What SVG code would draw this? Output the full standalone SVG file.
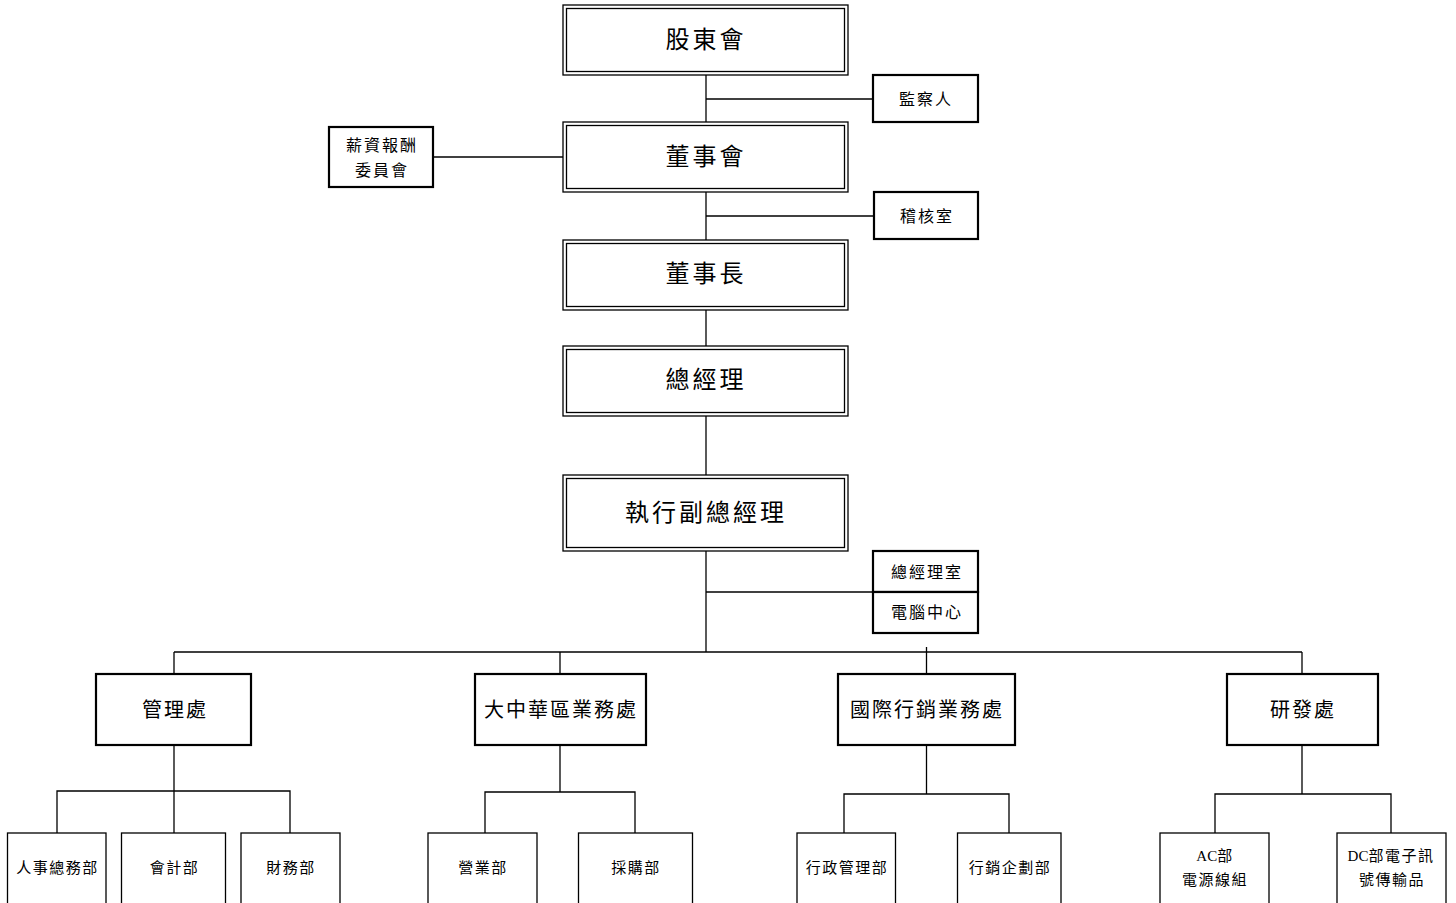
<svg xmlns="http://www.w3.org/2000/svg" width="1456" height="903" viewBox="0 0 1456 903">
<style>
text{font-family:"Liberation Serif","Noto Sans CJK TC",serif;fill:#000;text-anchor:middle;dominant-baseline:central}
.dbl{fill:none;stroke:#000;stroke-width:1.3}
.thk{fill:#fff;stroke:#000;stroke-width:2.2}
.thn{fill:#fff;stroke:#000;stroke-width:1.3}
.big{font-size:24px;letter-spacing:3px}
.mid{font-size:20px;letter-spacing:2px}
.sm{font-size:16px;letter-spacing:2px}
.xs{font-size:15px;letter-spacing:1.5px}
.lat{letter-spacing:0}
#connectors line,#connectors polyline{stroke:#000;stroke-width:1.3;fill:none}
</style>
<rect width="1456" height="903" fill="#fff"/>
<g id="connectors">
<line x1="706" y1="75" x2="706" y2="122"/>
<line x1="706" y1="99" x2="873" y2="99"/>
<line x1="706" y1="192" x2="706" y2="240"/>
<line x1="706" y1="216" x2="874" y2="216"/>
<line x1="433" y1="157" x2="563" y2="157"/>
<line x1="706" y1="310" x2="706" y2="346"/>
<line x1="706" y1="416" x2="706" y2="475"/>
<line x1="706" y1="551" x2="706" y2="652"/>
<line x1="706" y1="592" x2="873" y2="592"/>
<line x1="174" y1="652" x2="1302" y2="652"/>
<line x1="174" y1="652" x2="174" y2="674"/>
<line x1="560" y1="652" x2="560" y2="674"/>
<line x1="926.5" y1="647" x2="926.5" y2="674"/>
<line x1="1302" y1="652" x2="1302" y2="674"/>
<line x1="174" y1="745" x2="174" y2="833"/>
<polyline points="57,833 57,791 290,791 290,833"/>
<line x1="560" y1="745" x2="560" y2="792"/>
<polyline points="485,833 485,792 635,792 635,833"/>
<line x1="926.5" y1="745" x2="926.5" y2="794"/>
<polyline points="844,833 844,794 1009,794 1009,833"/>
<line x1="1302" y1="745" x2="1302" y2="794"/>
<polyline points="1215,833 1215,794 1391,794 1391,833"/>
</g>
<g id="n-gudong">
<rect x="563" y="5" width="285" height="70" class="dbl"/>
<rect x="566.5" y="8.5" width="278" height="63" class="dbl"/>
<text x="706" y="40" class="big">股東會</text>
</g>
<g id="n-jiancha">
<rect x="873" y="75" width="105" height="47" class="thk"/>
<text x="926" y="99" class="sm">監察人</text>
</g>
<g id="n-dongshihui">
<rect x="563" y="122" width="285" height="70" class="dbl"/>
<rect x="566.5" y="125.5" width="278" height="63" class="dbl"/>
<text x="706" y="157" class="big">董事會</text>
</g>
<g id="n-xinzi">
<rect x="329" y="127" width="104" height="60" class="thk"/>
<text x="382" y="145" class="sm">薪資報酬</text>
<text x="382" y="170" class="sm">委員會</text>
</g>
<g id="n-jihe">
<rect x="874" y="192" width="104" height="47" class="thk"/>
<text x="927" y="216" class="sm">稽核室</text>
</g>
<g id="n-dongshizhang">
<rect x="563" y="240" width="285" height="70" class="dbl"/>
<rect x="566.5" y="243.5" width="278" height="63" class="dbl"/>
<text x="706" y="274" class="big">董事長</text>
</g>
<g id="n-zongjingli">
<rect x="563" y="346" width="285" height="70" class="dbl"/>
<rect x="566.5" y="349.5" width="278" height="63" class="dbl"/>
<text x="706" y="380" class="big">總經理</text>
</g>
<g id="n-zhixing">
<rect x="563" y="475" width="285" height="76" class="dbl"/>
<rect x="566.5" y="478.5" width="278" height="69" class="dbl"/>
<text x="706" y="513" class="big">執行副總經理</text>
</g>
<g id="n-zjls">
<rect x="873" y="551" width="105" height="41" class="thk"/>
<text x="927" y="572" class="sm">總經理室</text>
</g>
<g id="n-diannao">
<rect x="873" y="592" width="105" height="41" class="thk"/>
<text x="927" y="612" class="sm">電腦中心</text>
</g>
<g id="n-guanli">
<rect x="96" y="674" width="155" height="71" class="thk"/>
<text x="175" y="710" class="mid">管理處</text>
</g>
<g id="n-dazhonghua">
<rect x="475" y="674" width="171" height="71" class="thk"/>
<text x="561" y="710" class="mid">大中華區業務處</text>
</g>
<g id="n-guoji">
<rect x="838" y="674" width="177" height="71" class="thk"/>
<text x="927" y="710" class="mid">國際行銷業務處</text>
</g>
<g id="n-yanfa">
<rect x="1227" y="674" width="151" height="71" class="thk"/>
<text x="1303" y="710" class="mid">研發處</text>
</g>
<g id="n-renshi">
<rect x="7.5" y="833" width="98.5" height="80" class="thn"/>
<text x="57.5" y="868" class="xs">人事總務部</text>
</g>
<g id="n-kuaiji">
<rect x="121.5" y="833" width="104" height="80" class="thn"/>
<text x="174.5" y="868" class="xs">會計部</text>
</g>
<g id="n-caiwu">
<rect x="241" y="833" width="99" height="80" class="thn"/>
<text x="291" y="868" class="xs">財務部</text>
</g>
<g id="n-yingye">
<rect x="428" y="833" width="109" height="80" class="thn"/>
<text x="483" y="868" class="xs">營業部</text>
</g>
<g id="n-caigou">
<rect x="578.5" y="833" width="114" height="80" class="thn"/>
<text x="636" y="868" class="xs">採購部</text>
</g>
<g id="n-xingzheng">
<rect x="797" y="833" width="98.5" height="80" class="thn"/>
<text x="847" y="868" class="xs">行政管理部</text>
</g>
<g id="n-xingxiao">
<rect x="957.5" y="833" width="103.5" height="80" class="thn"/>
<text x="1010" y="868" class="xs">行銷企劃部</text>
</g>
<g id="n-ac">
<rect x="1160" y="833" width="109" height="80" class="thn"/>
<text x="1215" y="856" class="xs"><tspan class="lat">AC</tspan>部</text>
<text x="1215" y="880" class="xs">電源線組</text>
</g>
<g id="n-dc">
<rect x="1337" y="833" width="109" height="80" class="thn"/>
<text x="1391" y="856" class="xs"><tspan class="lat">DC</tspan>部電子訊</text>
<text x="1392" y="880" class="xs">號傳輸品</text>
</g>
</svg>
